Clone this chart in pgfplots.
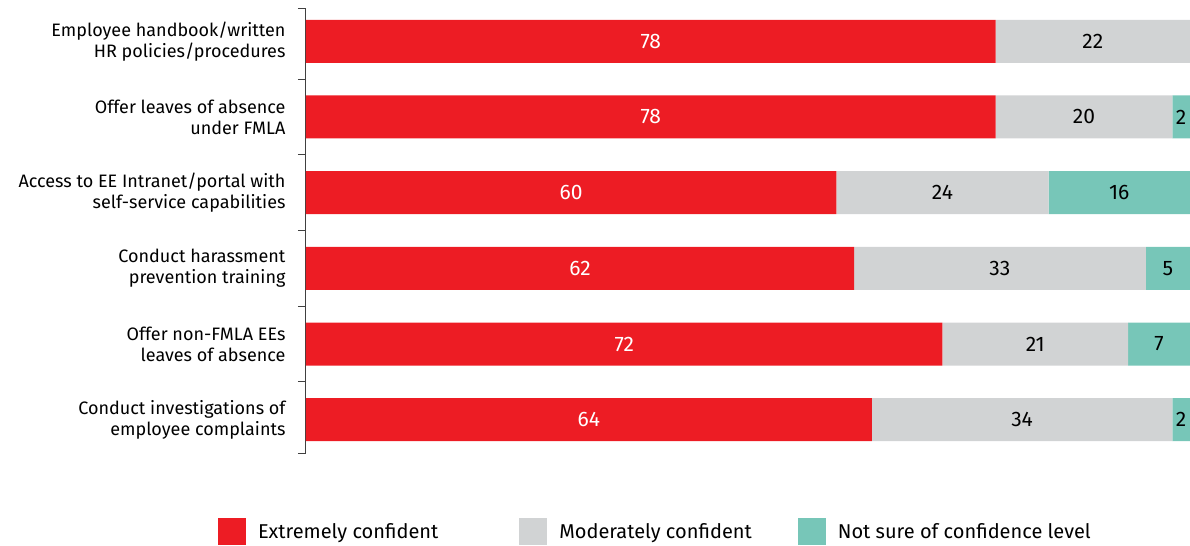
\documentclass[border=0pt]{standalone}
\usepackage{fontspec}
\setmainfont{Fira Sans}
\usepackage{pgfplots}
\pgfplotsset{compat=1.18}

\definecolor{cRed}{HTML}{ED1C24}
\definecolor{cGray}{HTML}{D1D3D4}
\definecolor{cTeal}{HTML}{77C6B8}

\begin{document}
\begin{tikzpicture}
\begin{axis}[
  name=ax,
  scale only axis,
  width=884pt, height=445pt,
  xbar stacked,
  bar width=43pt,
  xmin=0, xmax=100,
  ymin=-0.44, ymax=5.44,
  y dir=reverse,
  axis x line=none,
  axis y line*=left,
  axis line style={black!75, line width=1pt, -},
  ytick={0,1,2,3,4,5},
  yticklabels={
    {Employee handbook/written\\HR policies/procedures},
    {Offer leaves of absence\\under FMLA},
    {Access to EE Intranet/portal with\\self-service capabilities},
    {Conduct harassment\\prevention training},
    {Offer non-FMLA EEs\\leaves of absence},
    {Conduct investigations of\\employee complaints}},
  yticklabel style={align=right, font=\fontsize{18}{21}\selectfont, xshift=-17pt},
  major tick length=0pt,
  extra y ticks={-0.44,0.5,1.5,2.5,3.5,4.5,5.44},
  extra y tick labels={},
  extra y tick style={major tick length=8pt, tick align=outside,
    tick style={black!75, line width=1pt}},
  point meta=explicit symbolic,
  nodes near coords,
  every node near coord/.append style={anchor=center,
    font=\fontsize{21}{21}\selectfont},
  legend columns=3,
  legend style={at={(axis description cs:-0.0995,-0.146)}, anchor=north west,
    draw=none, inner sep=0pt, outer sep=0pt,
    font=\fontsize{20}{20}\selectfont,
    /tikz/every odd column/.style={column sep=10pt},
    /tikz/column 2/.style={column sep=79pt},
    /tikz/column 4/.style={column sep=44pt}},
  legend image code/.code={\fill[#1] (0pt,-13pt) rectangle (28pt,14pt);},
]
\addplot+[fill=cRed, draw=none, every node near coord/.append style={text=white}]
  coordinates {(78,0) [78] (78,1) [78] (60,2) [60] (62,3) [62] (72,4) [72] (64,5) [64]};
\addlegendentry{Extremely confident}
\addplot+[fill=cGray, draw=none, every node near coord/.append style={text=black}]
  coordinates {(22,0) [22] (20,1) [20] (24,2) [24] (33,3) [33] (21,4) [21] (34,5) [34]};
\addlegendentry{Moderately confident}
\addplot+[fill=cTeal, draw=none, every node near coord/.append style={text=black}]
  coordinates {(0,0) [] (2,1) [2] (16,2) [16] (5,3) [5] (7,4) [7] (2,5) [2]};
\addlegendentry{Not sure of confidence level}
\end{axis}
\pgfresetboundingbox
\path ([shift={(-306pt,-92pt)}]ax.south west) rectangle ([shift={(0pt,8pt)}]ax.north east);
\end{tikzpicture}
\end{document}
